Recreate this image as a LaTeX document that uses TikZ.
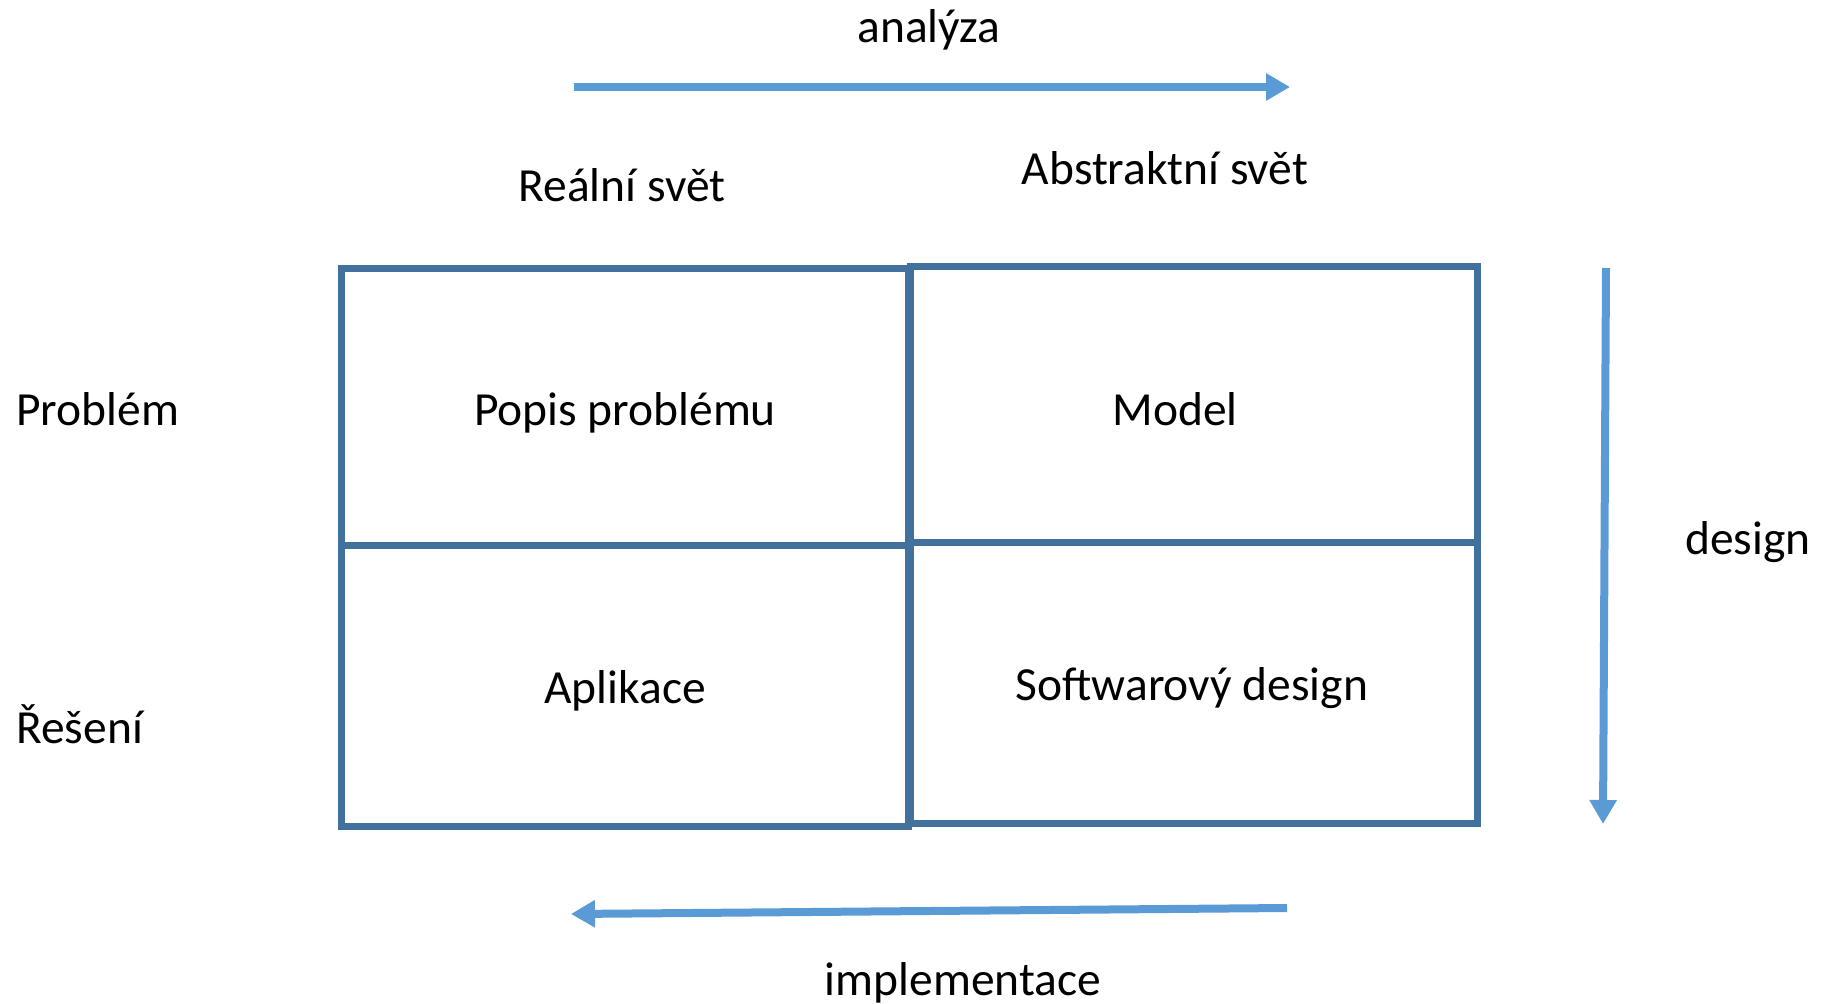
\documentclass[tikz,border=0pt]{standalone}
\usepackage{fontspec}
\setmainfont{Carlito}
\usetikzlibrary{arrows.meta}
\definecolor{gridblue}{RGB}{65,113,156}
\definecolor{flowblue}{RGB}{91,155,213}
\tikzset{
  cell/.style={draw=gridblue, line width=7pt},
  flow/.style={draw=flowblue, line width=8pt, -{Triangle[length=24pt,width=26pt]}},
  lbl/.style={anchor=base, inner sep=0pt, font=\fontsize{47.5}{56}\selectfont},
  side/.style={lbl, anchor=base west},
}
\begin{document}
\begin{tikzpicture}[x=1pt, y=-1pt]
  \useasboundingbox (0,0) rectangle (1821,1004);

  % the four quadrants
  \draw[cell] (341,268) rectangle (908,545);
  \draw[cell] (910,266) rectangle (1477,542);
  \draw[cell] (341,545) rectangle (908,826);
  \draw[cell] (910,542) rectangle (1477,823);

  % quadrant texts
  \node[lbl] (popis) at (625,425) {Popis problému};
  \node[lbl] (model) at (1175,425) {Model};
  \node[lbl] (aplikace) at (625,703) {Aplikace};
  \node[lbl] (swdesign) at (1192,700) {Softwarový design};

  % column and row headings
  \node[lbl] (real) at (622,201) {Reální svět};
  \node[lbl] (abstr) at (1165,184) {Abstraktní svět};
  \node[side] (problem) at (16,425) {Problém};
  \node[side] (reseni) at (16,743) {Řešení};

  % process labels
  \node[lbl] (analyza) at (929,42) {analýza};
  \node[lbl] (design) at (1748,554) {design};
  \node[lbl] (impl) at (963,995) {implementace};

  % arrow ends
  \coordinate (aS) at (574,87);
  \coordinate (aE) at (1290,87);
  \coordinate (dS) at (1606,268);
  \coordinate (dE) at (1603,824);
  \coordinate (iS) at (1287,908);
  \coordinate (iE) at (571,914);

  \draw[flow] (aS) -- (aE);
  \draw[flow] (dS) -- (dE);
  \draw[flow] (iS) -- (iE);
\end{tikzpicture}
\end{document}
